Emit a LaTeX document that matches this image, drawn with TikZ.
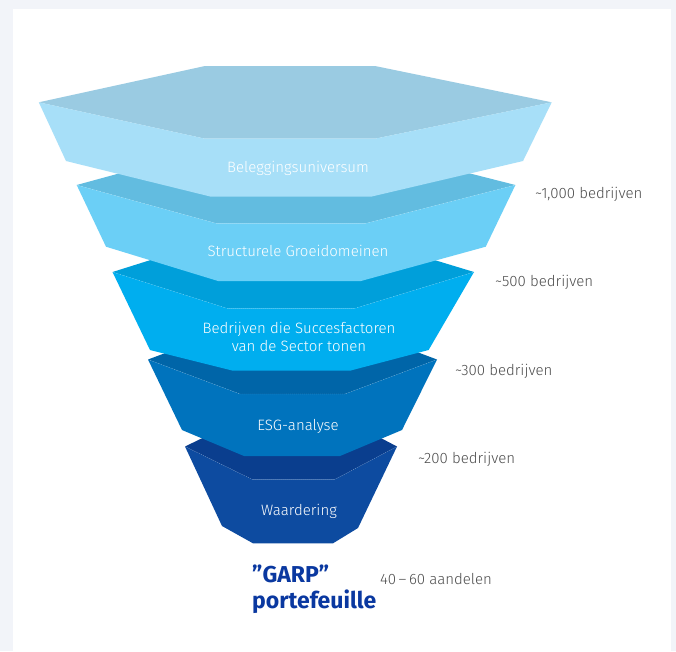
\documentclass[tikz,border=0pt]{standalone}
\usepackage{fontspec}
\setmainfont{Fira Sans Light}[BoldFont={Fira Sans Bold}]
\usepackage{tikz}
\usetikzlibrary{positioning}

\definecolor{pagegrey}{HTML}{F2F4F9}
\definecolor{labelgrey}{HTML}{4D4D4D}
\definecolor{garpblue}{HTML}{0A38A0}
\definecolor{topA}{HTML}{9ACBE2}
\definecolor{sideA}{HTML}{A7DFF8}
\definecolor{topB}{HTML}{62BCE0}
\definecolor{sideB}{HTML}{6BCFF6}
\definecolor{topC}{HTML}{009FDA}
\definecolor{sideC}{HTML}{00AEEF}
\definecolor{topD}{HTML}{0065A8}
\definecolor{sideD}{HTML}{0073BD}
\definecolor{topE}{HTML}{0A3E8E}
\definecolor{sideE}{HTML}{0D4BA0}

\begin{document}
\begin{tikzpicture}[x=1pt,y=-1pt]
\tikzset{
	face/.style = {fill = #1, draw = none},
	seam/.style = {draw = white, opacity = 0.3, line width = 0.3pt, dash pattern = on 1pt off 1pt},
	layer text/.style = {text = white, font = \fontsize{15}{18}\selectfont, align = center, inner sep = 0},
	count label/.style = {text = labelgrey, font = \fontsize{15}{18}\selectfont, anchor = west, inner sep = 0},
}
\useasboundingbox (0,0) rectangle (676,651);
\fill[pagegrey] (0,0) rectangle (676,651);
\fill[white] (13,9) rectangle (671,651);

% Waardering
\path[face = topE] (185,446.5) -- (252,414) -- (335,414) -- (397,446.5) -- (335,479.3) -- (252,479.3) -- cycle;
\path[face = sideE] (185,446.5) -- (252,479.3) -- (335,479.3) -- (397,446.5) -- (358,528) -- (333,543.3) -- (253,543.3) -- (222,526) -- cycle;
\draw[seam] (185,446.5) -- (252,479.3) -- (335,479.3) -- (397,446.5);

% ESG
\path[face = topD] (148,359.5) -- (240,325) -- (345,325) -- (437,359.5) -- (345,394) -- (240,394) -- cycle;
\path[face = sideD] (148,359.5) -- (240,394) -- (345,394) -- (437,359.5) -- (402,430) -- (340,456) -- (244,456) -- (182,430) -- cycle;
\draw[seam] (148,359.5) -- (240,394) -- (345,394) -- (437,359.5);

% succesfactoren
\path[face = topC] (112.5,272) -- (227,236) -- (355,236) -- (474,272) -- (355,308.3) -- (227,308.3) -- cycle;
\path[face = sideC] (112.5,272) -- (227,308.3) -- (355,308.3) -- (474,272) -- (428.6,350) -- (350,370.7) -- (233,370.7) -- (150,350) -- cycle;
\draw[seam] (112.5,272) -- (227,308.3) -- (355,308.3) -- (474,272);

% groeidomeinen
\path[face = topB] (76.7,185) -- (216,147) -- (366,147) -- (515.4,185) -- (366,223.3) -- (216,223.3) -- cycle;
\path[face = sideB] (76.7,185) -- (216,223.3) -- (366,223.3) -- (515.4,185) -- (485.7,246.7) -- (361,281) -- (218,281) -- (106,246.7) -- cycle;
\draw[seam] (76.7,185) -- (216,223.3) -- (366,223.3) -- (515.4,185);

% universum
\path[face = topA] (38.8,102.3) -- (205,66) -- (375,66) -- (551.7,102.3) -- (375,138.7) -- (205,138.7) -- cycle;
\path[face = sideA] (38.8,102.3) -- (205,138.7) -- (375,138.7) -- (551.7,102.3) -- (523,161) -- (371,196.7) -- (211,196.7) -- (66,161) -- cycle;

\node(universe)[layer text] at (298,168) {Beleggingsuniversum};
\node(growth)[layer text] at (298,251) {Structurele Groeidomeinen};
\node(success)[layer text] at (299,337) {Bedrijven die Succesfactoren\\van de Sector tonen};
\node(esg)[layer text] at (298,426) {ESG-analyse};
\node(valuation)[layer text] at (299,511) {Waardering};

\node(n1000)[count label] at (535,194) {\char`\~1,000 bedrijven};
\node(n500)[count label] at (495,282) {\char`\~500 bedrijven};
\node(n300)[count label] at (455,371) {\char`\~300 bedrijven};
\node(n200)[count label] at (418,459) {\char`\~200 bedrijven};
\node(n4060)[count label] at (380,579) {40\,–\,60 aandelen};

\node(garp)[anchor = west, inner sep = 0, align = left, text = garpblue, font = \fontsize{23}{26}\selectfont\bfseries] at (252,589) {”GARP”\\portefeuille};

\end{tikzpicture}
\end{document}
